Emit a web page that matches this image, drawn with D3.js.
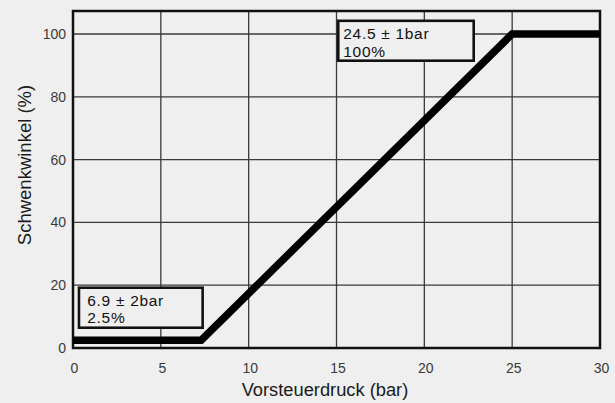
<!DOCTYPE html>
<html><head><meta charset="utf-8">
<script src="https://cdn.jsdelivr.net/npm/d3@7"></script>
<style>body{margin:0;background:#eeefee;}svg{display:block;}</style>
</head><body>
<script>
const xTicks = [0,5,10,15,20,25,30];
const yTicks = [0,20,40,60,80,100];
const curvePressure = [0, 7.3, 25.0, 30];
const curveAngle = [2.5, 2.5, 100, 100];
const annotations = [
  {lines:["24.5 ± 1bar","100%"]},
  {lines:["6.9 ± 2bar","2.5%"]}
];
(function(){
const W=615,H=403;
const svg=d3.select("body").append("svg").attr("width",W).attr("height",H);
svg.append("rect").attr("width",W).attr("height",H).attr("fill","#eeefee");
const x=d3.scaleLinear().domain([0,30]).range([73,600]);
const y=d3.scaleLinear().domain([0,100]).range([348,34]);
const frameTop=11;
const font="Liberation Sans, Arial, sans-serif";
// grid
const g=svg.append("g");
g.selectAll(".vx").data(xTicks.filter(d=>d>0&&d<30)).join("line")
 .attr("x1",d=>x(d)).attr("x2",d=>x(d)).attr("y1",frameTop).attr("y2",y(0))
 .attr("stroke","#3a3a3a").attr("stroke-width",1.3);
g.selectAll(".hy").data(yTicks.filter(d=>d>0)).join("line")
 .attr("x1",x(0)).attr("x2",x(30)).attr("y1",d=>y(d)).attr("y2",d=>y(d))
 .attr("stroke","#3a3a3a").attr("stroke-width",1.3);
// frame
svg.append("rect").attr("x",x(0)).attr("y",frameTop).attr("width",x(30)-x(0)).attr("height",y(0)-frameTop)
 .attr("fill","none").attr("stroke","#111").attr("stroke-width",2.5);
// tick labels
svg.selectAll(".xl").data(xTicks).join("text").attr("x",d=>x(d)+1.5).attr("y",373)
 .attr("text-anchor","middle").attr("font-family",font).attr("font-size",14).attr("fill","#3a3a3a").text(d=>d);
svg.selectAll(".yl").data(yTicks).join("text").attr("x",66).attr("y",d=>y(d)+5)
 .attr("text-anchor","end").attr("font-family",font).attr("font-size",14).attr("fill","#3a3a3a").text(d=>d);
// titles
svg.append("text").attr("x",325).attr("y",395.5).attr("text-anchor","middle").attr("font-family",font)
 .attr("font-size",18.3).attr("fill","#1a1a1a").text("Vorsteuerdruck (bar)");
svg.append("text").attr("transform","translate(31,165) rotate(-90)").attr("text-anchor","middle").attr("font-family",font)
 .attr("font-size",18.5).attr("fill","#1a1a1a").text("Schwenkwinkel (%)");
// curve
const pts=curvePressure.map((p,i)=>[p,curveAngle[i]]);
svg.append("path").attr("d",d3.line().x(d=>x(d[0])).y(d=>y(d[1]))(pts))
 .attr("fill","none").attr("stroke","#000").attr("stroke-width",7.5).attr("stroke-linejoin","miter");
// annotation boxes
const boxes=[
  {x0:15.1,x1:22.81,y0:104.2,y1:91.5,tx:5,ty1:17.8,dy:17.9},
  {x0:0.34,x1:7.38,y0:19.2,y1:6.46,tx:8.3,ty1:17.8,dy:17.9}
];
annotations.forEach((a,i)=>{
  const b=boxes[i];
  const bx=x(b.x0),by=y(b.y0),bw=x(b.x1)-x(b.x0),bh=y(b.y1)-y(b.y0);
  svg.append("rect").attr("x",bx).attr("y",by).attr("width",bw).attr("height",bh)
   .attr("fill","#eeefee").attr("stroke","#111").attr("stroke-width",2.6);
  const t=svg.append("text").attr("x",bx+b.tx).attr("y",by+b.ty1).attr("font-family",font).attr("font-size",15.5)
   .attr("letter-spacing",0.7).attr("fill","#111");
  t.append("tspan").attr("x",bx+b.tx).text(a.lines[0]);
  t.append("tspan").attr("x",bx+b.tx).attr("dy",b.dy).text(a.lines[1]);
});
})();
</script>
</body></html>
